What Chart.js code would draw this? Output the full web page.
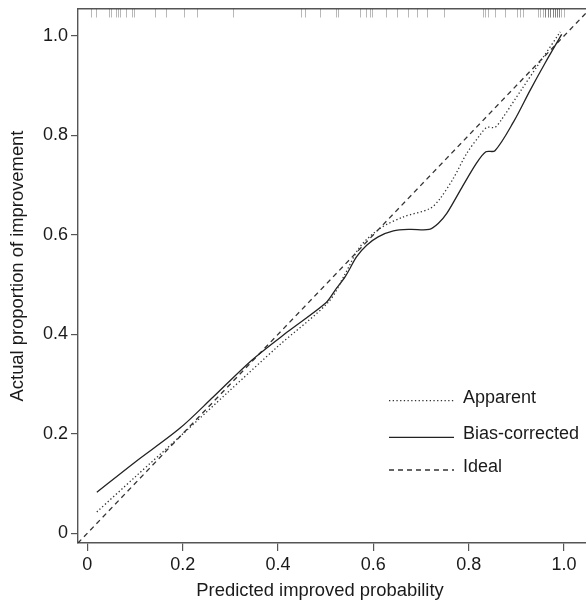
<!DOCTYPE html>
<html>
<head>
<meta charset="utf-8">
<script src="https://cdn.jsdelivr.net/npm/chart.js@4.4.1/dist/chart.umd.min.js"></script>
<style>
html,body{margin:0;padding:0;background:#fff;overflow:hidden;}
#wrap{position:relative;width:586px;height:601px;}
</style>
</head>
<body>
<div id="wrap"><canvas id="c" width="586" height="601"></canvas></div>
<script>
// ---- data ----
const xTicks = [0, 0.2, 0.4, 0.6, 0.8, 1.0];
const xTickLabels = ["0", "0.2", "0.4", "0.6", "0.8", "1.0"];
const yTicks = [0, 0.2, 0.4, 0.6, 0.8, 1.0];
const yTickLabels = ["0", "0.2", "0.4", "0.6", "0.8", "1.0"];

const apparentX = [0.02, 0.10, 0.2085, 0.292, 0.40, 0.506, 0.54, 0.572, 0.614, 0.663, 0.719, 0.740, 0.768, 0.796, 0.824, 0.838, 0.855, 0.869, 0.91, 0.950, 0.992];
const apparentY = [0.043, 0.113, 0.207, 0.281, 0.376, 0.465, 0.52, 0.576, 0.613, 0.636, 0.653, 0.673, 0.714, 0.764, 0.801, 0.816, 0.816, 0.832, 0.891, 0.948, 1.008];

const biasX = [0.02, 0.10, 0.194, 0.264, 0.345, 0.42, 0.50, 0.52, 0.541, 0.565, 0.586, 0.61, 0.642, 0.677, 0.717, 0.736, 0.754, 0.785, 0.817, 0.836, 0.855, 0.894, 0.929, 0.96, 0.995];
const biasY = [0.0825, 0.143, 0.211, 0.274, 0.348, 0.405, 0.463, 0.489, 0.516, 0.556, 0.579, 0.596, 0.608, 0.611, 0.611, 0.623, 0.643, 0.694, 0.745, 0.767, 0.769, 0.827, 0.891, 0.945, 1.003];

const idealX = [-0.02, 1.06];
const idealY = [-0.02, 1.06];

const rugValues = [0.007, 0.019, 0.045, 0.05, 0.061, 0.065, 0.069, 0.082, 0.094, 0.098, 0.143, 0.166, 0.203, 0.231, 0.306,
  0.449, 0.456, 0.489, 0.522, 0.526, 0.573, 0.585, 0.592, 0.597, 0.627, 0.650, 0.673, 0.692, 0.713, 0.748,
  0.829, 0.835, 0.841, 0.856, 0.877, 0.901, 0.908, 0.913, 0.945, 0.950, 0.955, 0.961, 0.966, 0.971, 0.976,
  0.980, 0.985, 0.989, 0.994, 0.999, 0.961, 0.966, 0.971, 0.976, 0.980, 0.985, 0.989];

const seriesLabels = ["Apparent", "Bias-corrected", "Ideal"];
const xTitle = "Predicted improved probability";
const yTitle = "Actual proportion of improvement";

// ---- chart ----
const FONT = "'Liberation Sans', Arial, Helvetica, sans-serif";
const pts = (xs, ys) => xs.map((x, i) => ({x: x, y: ys[i]}));

const overlay = {
  id: 'overlay',
  afterDatasetsDraw(chart) {
    const ctx = chart.ctx;
    const xs = chart.scales.x;
    const area = chart.chartArea;
    ctx.save();
    // rug
    ctx.strokeStyle = 'rgba(0,0,0,0.28)';
    ctx.lineWidth = 1;
    rugValues.forEach(v => {
      const px = Math.round(xs.getPixelForValue(v)) + 0.5;
      ctx.beginPath();
      ctx.moveTo(px, area.top);
      ctx.lineTo(px, area.top + 8.5);
      ctx.stroke();
    });
    // legend
    const x0 = 389, x1 = 454, tx = 463;
    const rows = [400.7, 437.3, 470];
    ctx.font = '18px ' + FONT;
    ctx.textBaseline = 'middle';
    ctx.textAlign = 'left';
    chart.data.datasets.forEach((ds, i) => {
      ctx.strokeStyle = ds.borderColor;
      ctx.lineWidth = ds.borderWidth;
      ctx.setLineDash(ds.borderDash || []);
      ctx.beginPath();
      ctx.moveTo(x0, rows[i]);
      ctx.lineTo(x1, rows[i]);
      ctx.stroke();
      ctx.setLineDash([]);
      ctx.fillStyle = '#1a1a1a';
      ctx.fillText(ds.label, tx, rows[i] - 3);
    });
    // axis titles
    ctx.fillStyle = '#1a1a1a';
    ctx.font = '18.4px ' + FONT;
    ctx.textAlign = 'center';
    ctx.textBaseline = 'middle';
    ctx.fillText(xTitle, 320, 591);
    ctx.save();
    ctx.translate(18, 266);
    ctx.rotate(-Math.PI / 2);
    ctx.fillText(yTitle, 0, 0);
    ctx.restore();
    ctx.restore();
  }
};

const noPadX = s => { s.height = 58; s.paddingLeft = 0; s.paddingRight = 0; };
const noPadY = s => { s.width = 78; s.paddingTop = 0; s.paddingBottom = 0; };

new Chart(document.getElementById('c'), {
  type: 'scatter',
  data: {
    datasets: [
      {label: seriesLabels[0], data: pts(apparentX, apparentY), showLine: true, borderColor: '#333', borderWidth: 1.3, borderDash: [1.3, 2.4], pointRadius: 0, tension: 0.3, fill: false},
      {label: seriesLabels[1], data: pts(biasX, biasY), showLine: true, borderColor: '#222', borderWidth: 1.3, pointRadius: 0, tension: 0.3, fill: false},
      {label: seriesLabels[2], data: pts(idealX, idealY), showLine: true, borderColor: '#333', borderWidth: 1.3, borderDash: [5, 4], pointRadius: 0, tension: 0, fill: false}
    ]
  },
  options: {
    responsive: false,
    animation: false,
    events: [],
    layout: {padding: 0},
    plugins: {legend: {display: false}, tooltip: {enabled: false}},
    scales: {
      x: {
        type: 'linear', position: 'bottom', min: -0.0195, max: 1.046,
        afterBuildTicks: s => { s.ticks = xTicks.map(v => ({value: v})); },
        afterFit: noPadX,
        grid: {display: true, drawOnChartArea: false, drawTicks: true, tickLength: 8, color: '#555', lineWidth: 1.2},
        border: {display: true, color: '#555', width: 1.4},
        ticks: {autoSkip: false, maxRotation: 0, padding: 3, color: '#1a1a1a', font: {family: FONT, size: 18},
          callback: (v, i) => xTickLabels[i]},
        title: {display: false}
      },
      x2: {
        type: 'linear', position: 'top', min: 0, max: 1,
        afterFit: s => { s.height = 9; s.paddingLeft = 0; s.paddingRight = 0; },
        grid: {display: false, drawTicks: false},
        border: {display: true, color: '#555', width: 1.4},
        ticks: {display: false}
      },
      y: {
        type: 'linear', position: 'left', min: -0.0195, max: 1.054,
        afterBuildTicks: s => { s.ticks = yTicks.map(v => ({value: v})); },
        afterFit: noPadY,
        grid: {display: true, drawOnChartArea: false, drawTicks: true, tickLength: 7, color: '#555', lineWidth: 1.2},
        border: {display: true, color: '#555', width: 1.4},
        ticks: {autoSkip: false, padding: 3, color: '#1a1a1a', font: {family: FONT, size: 18},
          callback: (v, i) => yTickLabels[i]},
        title: {display: false}
      }
    }
  },
  plugins: [overlay]
});
</script>
</body>
</html>
